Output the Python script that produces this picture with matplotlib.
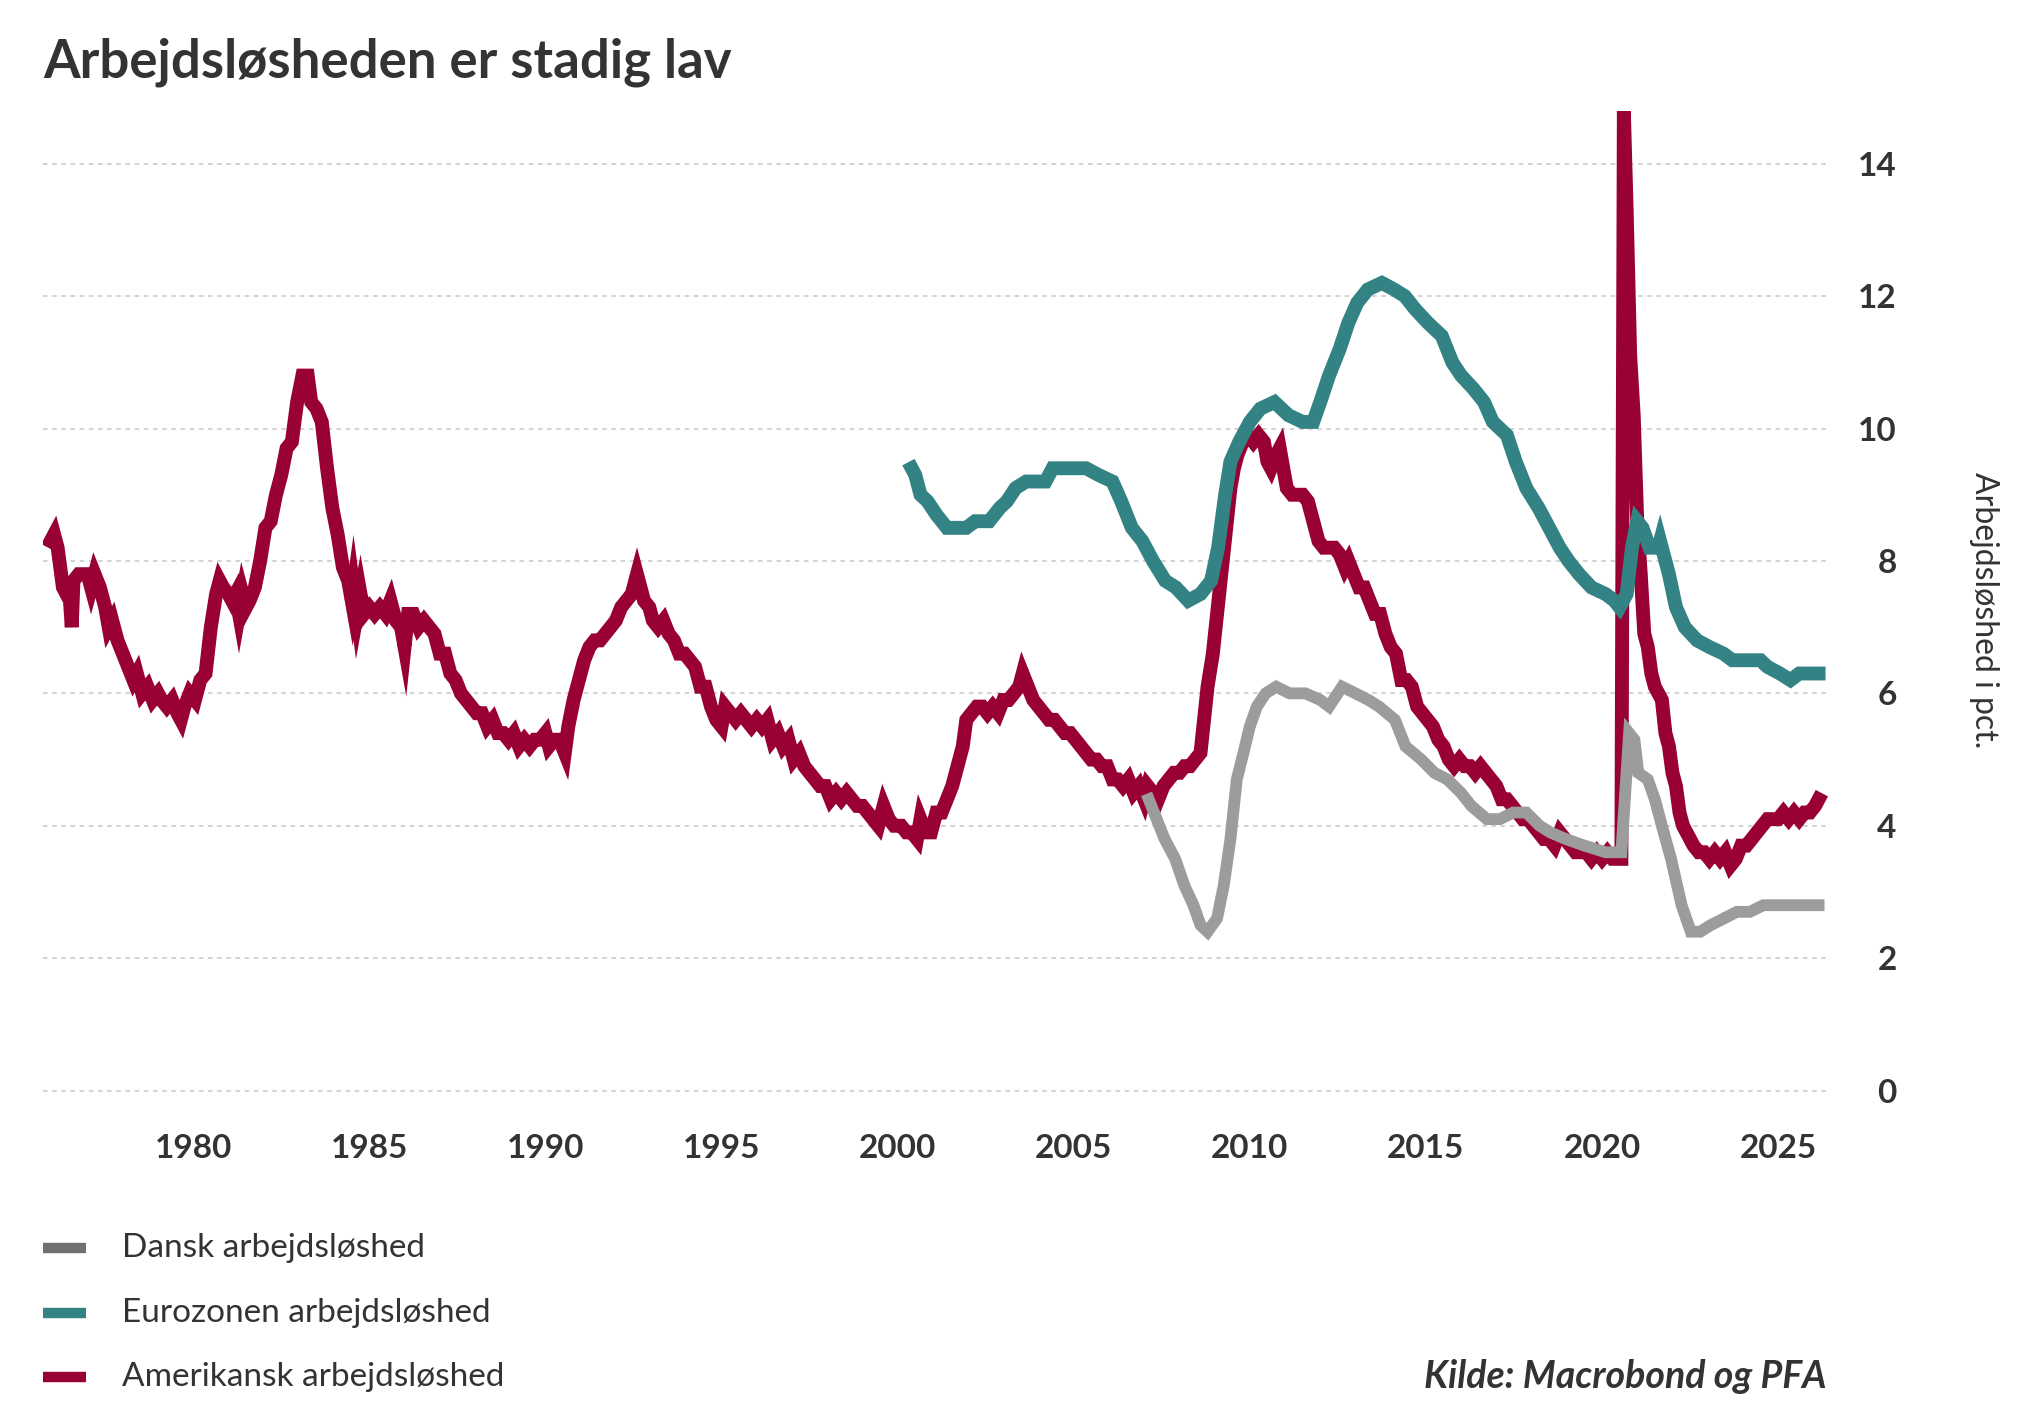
import numpy as np
import matplotlib.pyplot as plt
from matplotlib.lines import Line2D

plt.rcParams['font.family'] = ['Lato', 'DejaVu Sans']

# --- data ---
us_x = [1975.95, 1976.05, 1976.15, 1976.3, 1976.4, 1976.5, 1976.55, 1976.6, 1976.75, 1977.0,
        1977.1, 1977.2, 1977.35, 1977.5, 1977.6, 1977.7, 1977.85, 1978.0, 1978.15, 1978.3,
        1978.4, 1978.55, 1978.7, 1978.85, 1979.0, 1979.1, 1979.25, 1979.4, 1979.55, 1979.65,
        1979.75, 1979.9, 1980.05, 1980.2, 1980.35, 1980.5, 1980.65, 1980.75, 1980.85, 1981.0,
        1981.1, 1981.2, 1981.3, 1981.4, 1981.5, 1981.6, 1981.75, 1981.9, 1982.05, 1982.2,
        1982.35, 1982.5, 1982.65, 1982.8, 1982.95, 1983.1, 1983.25, 1983.35, 1983.5, 1983.65,
        1983.8, 1983.95, 1984.1, 1984.25, 1984.4, 1984.5, 1984.55, 1984.65, 1984.75, 1984.85,
        1985.0, 1985.15, 1985.3, 1985.45, 1985.6, 1985.75, 1985.9, 1986.0, 1986.1, 1986.25,
        1986.4, 1986.55, 1986.7, 1986.85, 1987.0, 1987.15, 1987.3, 1987.45, 1987.6, 1987.75,
        1987.9, 1988.05, 1988.2, 1988.35, 1988.5, 1988.65, 1988.8, 1988.95, 1989.1, 1989.25,
        1989.4, 1989.55, 1989.7, 1989.85, 1990.0, 1990.1, 1990.25, 1990.4, 1990.55, 1990.65,
        1990.8, 1990.95, 1991.1, 1991.25, 1991.4, 1991.55, 1991.7, 1991.85, 1992.0, 1992.15,
        1992.3, 1992.45, 1992.55, 1992.6, 1992.7, 1992.8, 1992.95, 1993.05, 1993.2, 1993.35,
        1993.5, 1993.65, 1993.8, 1993.95, 1994.1, 1994.25, 1994.4, 1994.55, 1994.7, 1994.85,
        1995.0, 1995.1, 1995.25, 1995.4, 1995.55, 1995.7, 1995.85, 1996.0, 1996.15, 1996.3,
        1996.45, 1996.6, 1996.75, 1996.9, 1997.05, 1997.2, 1997.35, 1997.5, 1997.65, 1997.8,
        1997.95, 1998.1, 1998.25, 1998.4, 1998.55, 1998.7, 1998.85, 1999.0, 1999.15, 1999.3,
        1999.45, 1999.6, 1999.75, 1999.9, 2000.1, 2000.25, 2000.4, 2000.55, 2000.65, 2000.8,
        2000.95, 2001.1, 2001.25, 2001.4, 2001.55, 2001.7, 2001.85, 2001.95, 2002.1, 2002.25,
        2002.4, 2002.55, 2002.7, 2002.85, 2003.0, 2003.15, 2003.3, 2003.45, 2003.55, 2003.7,
        2003.85, 2004.0, 2004.15, 2004.3, 2004.45, 2004.6, 2004.75, 2004.9, 2005.05, 2005.2,
        2005.35, 2005.5, 2005.65, 2005.8, 2005.95, 2006.1, 2006.25, 2006.4, 2006.55, 2006.7,
        2006.85, 2007.0, 2007.1, 2007.25, 2007.4, 2007.55, 2007.7, 2007.85, 2008.0, 2008.15,
        2008.3, 2008.45, 2008.6, 2008.7, 2008.8, 2008.95, 2009.05, 2009.15, 2009.25, 2009.35,
        2009.45, 2009.55, 2009.65, 2009.8, 2009.95, 2010.1, 2010.25, 2010.4, 2010.5, 2010.6,
        2010.75, 2010.85, 2010.95, 2011.05, 2011.2, 2011.35, 2011.5, 2011.65, 2011.8, 2011.95,
        2012.1, 2012.25, 2012.4, 2012.55, 2012.7, 2012.8, 2012.95, 2013.1, 2013.25, 2013.4,
        2013.55, 2013.7, 2013.85, 2014.0, 2014.15, 2014.3, 2014.45, 2014.6, 2014.75, 2014.9,
        2015.05, 2015.2, 2015.35, 2015.5, 2015.65, 2015.8, 2015.95, 2016.1, 2016.25, 2016.4,
        2016.55, 2016.7, 2016.85, 2017.0, 2017.15, 2017.3, 2017.45, 2017.6, 2017.75, 2017.9,
        2018.05, 2018.2, 2018.35, 2018.5, 2018.65, 2018.8, 2018.95, 2019.1, 2019.25, 2019.4,
        2019.55, 2019.7, 2019.85, 2020.0, 2020.15, 2020.3, 2020.45, 2020.55, 2020.62, 2020.7,
        2020.8, 2020.9, 2021.0, 2021.1, 2021.2, 2021.3, 2021.4, 2021.5, 2021.6, 2021.7,
        2021.8, 2021.9, 2022.0, 2022.1, 2022.2, 2022.3, 2022.4, 2022.5, 2022.6, 2022.75,
        2022.9, 2023.05, 2023.2, 2023.35, 2023.5, 2023.65, 2023.8, 2023.95, 2024.1, 2024.25,
        2024.4, 2024.55, 2024.7, 2024.85, 2025.0, 2025.15, 2025.3, 2025.45, 2025.6, 2025.75,
        2025.9, 2026.05, 2026.15]
us_y = [8.3, 8.4, 8.2, 7.6, 7.5, 7.4, 7.0, 7.7, 7.8, 7.8,
        7.6, 7.8, 7.6, 7.3, 7.0, 7.1, 6.8, 6.6, 6.4, 6.2,
        6.3, 6.0, 6.1, 5.9, 6.0, 5.9, 5.8, 5.9, 5.7, 5.6,
        5.8, 6.0, 5.9, 6.2, 6.3, 7.0, 7.5, 7.7, 7.6, 7.5,
        7.4, 7.5, 7.2, 7.5, 7.3, 7.4, 7.6, 8.0, 8.5, 8.6,
        9.0, 9.3, 9.7, 9.8, 10.4, 10.8, 10.8, 10.4, 10.3, 10.1,
        9.4, 8.8, 8.4, 7.9, 7.7, 7.4, 7.6, 7.2, 7.5, 7.2,
        7.3, 7.2, 7.3, 7.2, 7.4, 7.1, 7.0, 6.7, 7.2, 7.2,
        7.0, 7.1, 7.0, 6.9, 6.6, 6.6, 6.3, 6.2, 6.0, 5.9,
        5.8, 5.7, 5.7, 5.5, 5.6, 5.4, 5.4, 5.3, 5.4, 5.2,
        5.3, 5.2, 5.3, 5.3, 5.4, 5.2, 5.3, 5.3, 5.1, 5.5,
        5.9, 6.2, 6.5, 6.7, 6.8, 6.8, 6.9, 7.0, 7.1, 7.3,
        7.4, 7.5, 7.7, 7.8, 7.6, 7.4, 7.3, 7.1, 7.0, 7.1,
        6.9, 6.8, 6.6, 6.6, 6.5, 6.4, 6.1, 6.1, 5.8, 5.6,
        5.5, 5.8, 5.7, 5.6, 5.7, 5.6, 5.5, 5.6, 5.5, 5.6,
        5.3, 5.4, 5.2, 5.3, 5.0, 5.1, 4.9, 4.8, 4.7, 4.6,
        4.6, 4.4, 4.5, 4.4, 4.5, 4.4, 4.3, 4.3, 4.2, 4.1,
        4.0, 4.3, 4.1, 4.0, 4.0, 3.9, 3.9, 3.8, 4.1, 3.9,
        3.9, 4.2, 4.2, 4.4, 4.6, 4.9, 5.2, 5.6, 5.7, 5.8,
        5.8, 5.7, 5.8, 5.7, 5.9, 5.9, 6.0, 6.1, 6.3, 6.1,
        5.9, 5.8, 5.7, 5.6, 5.6, 5.5, 5.4, 5.4, 5.3, 5.2,
        5.1, 5.0, 5.0, 4.9, 4.9, 4.7, 4.7, 4.6, 4.7, 4.5,
        4.6, 4.4, 4.6, 4.5, 4.4, 4.6, 4.7, 4.8, 4.8, 4.9,
        4.9, 5.0, 5.1, 5.6, 6.1, 6.6, 7.1, 7.6, 8.1, 8.6,
        9.1, 9.4, 9.6, 9.8, 9.9, 9.8, 9.9, 9.8, 9.5, 9.4,
        9.6, 9.7, 9.4, 9.1, 9.0, 9.0, 9.0, 8.9, 8.6, 8.3,
        8.2, 8.2, 8.2, 8.1, 7.9, 8.0, 7.8, 7.6, 7.6, 7.4,
        7.2, 7.2, 6.9, 6.7, 6.6, 6.2, 6.2, 6.1, 5.8, 5.7,
        5.6, 5.5, 5.3, 5.2, 5.0, 4.9, 5.0, 4.9, 4.9, 4.8,
        4.9, 4.8, 4.7, 4.6, 4.4, 4.4, 4.3, 4.2, 4.1, 4.1,
        4.0, 3.9, 3.8, 3.8, 3.7, 3.9, 3.8, 3.7, 3.6, 3.6,
        3.6, 3.5, 3.6, 3.5, 3.6, 3.5, 3.5, 3.5, 14.8, 13.3,
        11.1, 10.2, 8.6, 7.8, 6.9, 6.7, 6.3, 6.1, 6.0, 5.9,
        5.4, 5.2, 4.8, 4.6, 4.2, 4.0, 3.9, 3.8, 3.7, 3.6,
        3.6, 3.5, 3.6, 3.5, 3.6, 3.4, 3.5, 3.7, 3.7, 3.8,
        3.9, 4.0, 4.1, 4.1, 4.1, 4.2, 4.1, 4.2, 4.1, 4.2,
        4.2, 4.3, 4.4]

ez_x = [2000.4, 2000.5, 2000.65, 2000.85, 2001.1, 2001.4, 2001.7, 2001.95, 2002.2, 2002.35,
        2002.6, 2002.9, 2003.1, 2003.35, 2003.65, 2003.9, 2004.2, 2004.4, 2004.8, 2005.35,
        2005.7, 2006.1, 2006.35, 2006.65, 2006.95, 2007.25, 2007.6, 2007.9, 2008.25, 2008.6,
        2008.9, 2009.1, 2009.3, 2009.45, 2009.7, 2010.0, 2010.3, 2010.7, 2011.1, 2011.5,
        2011.8, 2012.0, 2012.25, 2012.55, 2012.8, 2013.05, 2013.35, 2013.75, 2014.1, 2014.4,
        2014.7, 2015.05, 2015.45, 2015.75, 2016.0, 2016.35, 2016.65, 2016.9, 2017.3, 2017.55,
        2017.85, 2018.2, 2018.5, 2018.8, 2019.05, 2019.35, 2019.7, 2020.1, 2020.35, 2020.5,
        2020.7, 2020.85, 2021.0, 2021.15, 2021.35, 2021.6, 2021.65, 2021.9, 2022.1, 2022.35,
        2022.7, 2023.05, 2023.45, 2023.7, 2024.15, 2024.5, 2024.7, 2025.05, 2025.35, 2025.6,
        2026.15]
ez_y = [9.4, 9.3, 9.0, 8.9, 8.7, 8.5, 8.5, 8.5, 8.6, 8.6,
        8.6, 8.8, 8.9, 9.1, 9.2, 9.2, 9.2, 9.4, 9.4, 9.4,
        9.3, 9.2, 8.9, 8.5, 8.3, 8.0, 7.7, 7.6, 7.4, 7.5,
        7.7, 8.2, 9.0, 9.5, 9.8, 10.1, 10.3, 10.4, 10.2, 10.1,
        10.1, 10.4, 10.8, 11.2, 11.6, 11.9, 12.1, 12.2, 12.1, 12.0,
        11.8, 11.6, 11.4, 11.0, 10.8, 10.6, 10.4, 10.1, 9.9, 9.5,
        9.1, 8.8, 8.5, 8.2, 8.0, 7.8, 7.6, 7.5, 7.4, 7.3,
        7.5, 8.2, 8.6, 8.5, 8.2, 8.2, 8.3, 7.8, 7.3, 7.0,
        6.8, 6.7, 6.6, 6.5, 6.5, 6.5, 6.4, 6.3, 6.2, 6.3,
        6.3]

dk_x = [2007.13, 2007.58, 2007.88, 2008.14, 2008.4, 2008.6, 2008.8, 2009.07, 2009.26, 2009.45,
        2009.63, 2009.82, 2010.0, 2010.2, 2010.45, 2010.75, 2011.13, 2011.58, 2012.0, 2012.25,
        2012.62, 2013.0, 2013.37, 2013.67, 2014.12, 2014.42, 2014.87, 2015.24, 2015.61, 2015.99,
        2016.29, 2016.73, 2017.1, 2017.48, 2017.85, 2018.23, 2018.53, 2018.97, 2019.5, 2020.1,
        2020.55, 2020.77, 2020.92, 2021.03, 2021.3, 2021.5, 2021.7, 2021.96, 2022.26, 2022.52,
        2022.79, 2023.09, 2023.46, 2023.83, 2024.2, 2024.58, 2026.15]
dk_y = [4.4, 3.8, 3.5, 3.1, 2.8, 2.5, 2.4, 2.6, 3.1, 3.8,
        4.7, 5.1, 5.5, 5.8, 6.0, 6.1, 6.0, 6.0, 5.9, 5.8,
        6.1, 6.0, 5.9, 5.8, 5.6, 5.2, 5.0, 4.8, 4.7, 4.5,
        4.3, 4.1, 4.1, 4.2, 4.2, 4.0, 3.9, 3.8, 3.7, 3.6,
        3.6, 5.4, 5.3, 4.8, 4.7, 4.4, 4.0, 3.5, 2.8, 2.4,
        2.4, 2.5, 2.6, 2.7, 2.7, 2.8, 2.8]

series_names = ['Dansk arbejdsløshed', 'Eurozonen arbejdsløshed', 'Amerikansk arbejdsløshed']
line_colors = ['#9c9c9c', '#338385', '#990033']
legend_colors = ['#707070', '#338385', '#990033']
year_ticks = [1980, 1985, 1990, 1995, 2000, 2005, 2010, 2015, 2020, 2025]
value_ticks = [0, 2, 4, 6, 8, 10, 12, 14]

txt = '#333333'

fig = plt.figure(figsize=(20.4, 14.2), dpi=100)
ax = fig.add_axes([0.021, 0.218, 0.876, 0.704])

ax.plot(us_x, us_y, color=line_colors[2], lw=10, solid_joinstyle='miter', zorder=3)
ax.plot(ez_x, ez_y, color=line_colors[1], lw=10, solid_joinstyle='miter', zorder=4)
ax.plot(dk_x, dk_y, color=line_colors[0], lw=8.5, solid_joinstyle='miter', zorder=5)

ax.set_xlim(1975.73, 2026.47)
ax.set_ylim(-0.3, 14.8)
ax.set_xticks(year_ticks)
ax.set_yticks(value_ticks)
ax.yaxis.tick_right()
ax.grid(axis='y', color='#c8c8c8', lw=1.1, linestyle=(0, (3, 3)))
ax.grid(axis='x', visible=False)
for s in ax.spines.values():
    s.set_visible(False)
ax.tick_params(axis='both', length=0, labelsize=24, labelcolor=txt)
ax.tick_params(axis='x', pad=17)
ax.tick_params(axis='y', pad=48)
for t in ax.yaxis.get_major_ticks():
    t.label2.set_horizontalalignment('right')
    t.label2.set_fontweight('bold')
for t in ax.xaxis.get_major_ticks():
    t.label1.set_fontweight('bold')

ax.yaxis.set_label_position('right')
ax.set_ylabel('Arbejdsløshed i pct.', rotation=270, fontsize=23, color=txt,
              fontweight='normal', labelpad=52, va='bottom')

fig.text(0.021, 0.956, 'Arbejdsløsheden er stadig lav', fontsize=38, fontweight='bold',
         color=txt, va='center', ha='left')

# legend
rows_y = [1 - 1248 / 1420, 1 - 1313 / 1420, 1 - 1377 / 1420]
for name, col, yy in zip(series_names, legend_colors, rows_y):
    fig.add_artist(Line2D([43 / 2040, 86 / 2040], [yy, yy], color=col, lw=7.5,
                          solid_capstyle='butt', transform=fig.transFigure))
    fig.text(122 / 2040, yy, name, fontsize=24, color=txt, va='center', ha='left')

fig.text(1827 / 2040, rows_y[2], 'Kilde: Macrobond og PFA', fontsize=27, color=txt,
         fontweight='bold', fontstyle='italic', ha='right', va='center')

fig.savefig('out.png', dpi=100)
